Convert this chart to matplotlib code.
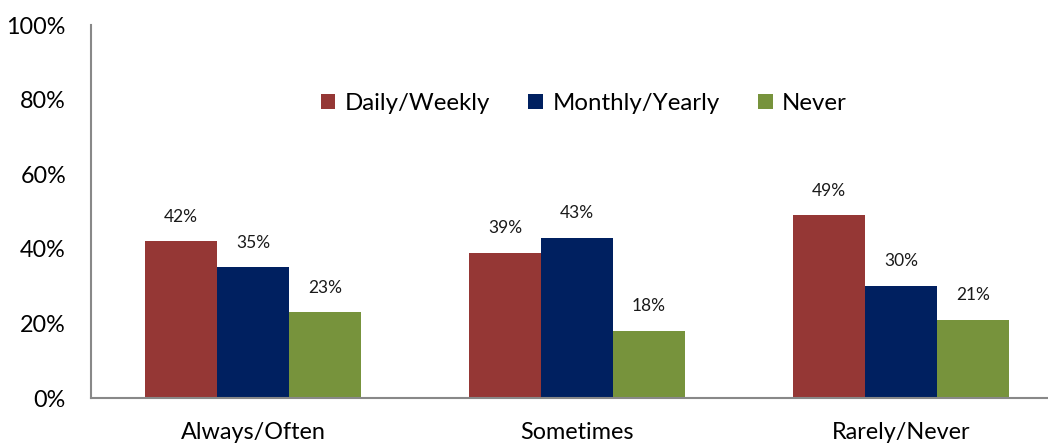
import numpy as np
import matplotlib.pyplot as plt

categories = ['Always/Often', 'Sometimes', 'Rarely/Never']
series = ['Daily/Weekly', 'Monthly/Yearly', 'Never']
daily_weekly = [42, 39, 49]
monthly_yearly = [35, 43, 30]
never = [23, 18, 21]
yticks = [0, 20, 40, 60, 80, 100]

colors = ['#953735', '#002060', '#77933C']

plt.rcParams['font.family'] = ['Lato', 'DejaVu Sans']

fig = plt.figure(figsize=(10.48, 4.44), dpi=100)
ax = fig.add_axes([91/1048, 46/444, 972/1048, 373/444])

x = np.arange(len(categories))
w = 0.222
for i, (name, vals) in enumerate(zip(series, [daily_weekly, monthly_yearly, never])):
    pos = x + (i - 1) * w
    ax.bar(pos, vals, w, color=colors[i], label=name)
    for p, v in zip(pos, vals):
        ax.annotate(f'{v}%', (p, v), xytext=(0, 12), textcoords='offset points',
                    ha='center', va='bottom', fontsize=12.5, color='#1a1a1a')

ax.set_xlim(-0.5, 2.5)
ax.set_ylim(0, 100)
ax.set_yticks(yticks)
ax.set_yticklabels([f'{t}%' for t in yticks])
ax.set_xticks(x)
ax.set_xticklabels(categories)
ax.tick_params(axis='both', length=0, labelsize=16.8)
ax.tick_params(axis='y', pad=18)
ax.tick_params(axis='x', pad=17)

for s in ['top', 'right']:
    ax.spines[s].set_visible(False)
for s in ['left', 'bottom']:
    ax.spines[s].set_color('#888888')
    ax.spines[s].set_linewidth(1.5)

ax.legend(loc='center', bbox_to_anchor=(0.507, 0.79), ncol=3, frameon=False,
          fontsize=17.3, handlelength=0.6, handleheight=0.6, handletextpad=0.4,
          columnspacing=1.6)

fig.savefig('out.png', dpi=100)
